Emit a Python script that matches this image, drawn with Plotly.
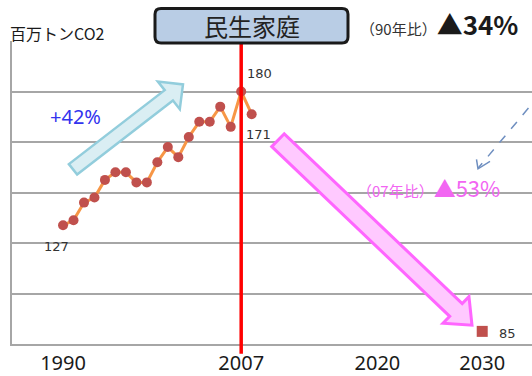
import math
import plotly.graph_objects as go

# ---- data ----
years = list(range(1990, 2009))
emissions = [127, 129, 136, 138, 145, 148, 148, 144, 144, 152,
             158, 154, 162, 168, 168, 174, 166, 180, 171]
target_year = [2030]
target_value = [85]
tick_years = [1990, 2007, 2020, 2030]
tick_text = ["1990", "2007", "2020", "2030"]
label_points = [(1990, 127, "127", -7, -21), (2007, 180, "180", 18, 18),
                (2008, 171, "171", 7, -20), (2030, 85, "85", 25, -2)]

# ---- layout geometry ----
W, H = 532, 376
ML, MR, MT, MB = 12, 0, 41, 28
PW = W - ML - MR
PH = H - MT - MB


def px(x):
    return (x - ML) / PW


def py(y):
    return (H - MB - y) / PH


def arrow_path(tail, tip, sw, hw, hl):
    dx, dy = tip[0] - tail[0], tip[1] - tail[1]
    L = math.hypot(dx, dy)
    ux, uy = dx / L, dy / L
    nx, ny = -uy, ux
    bx, by = tip[0] - hl * ux, tip[1] - hl * uy
    pts = [
        (tail[0] + sw * nx, tail[1] + sw * ny),
        (bx + sw * nx, by + sw * ny),
        (bx + hw * nx, by + hw * ny),
        tip,
        (bx - hw * nx, by - hw * ny),
        (bx - sw * nx, by - sw * ny),
        (tail[0] - sw * nx, tail[1] - sw * ny),
    ]
    return "M " + " L ".join(f"{px(x):.5f},{py(y):.5f}" for x, y in pts) + " Z"


def rounded_rect(x0, y0, x1, y1, r):
    P = lambda x, y: f"{px(x):.5f},{py(y):.5f}"
    return (f"M {P(x0 + r, y0)} L {P(x1 - r, y0)} Q {P(x1, y0)} {P(x1, y0 + r)} "
            f"L {P(x1, y1 - r)} Q {P(x1, y1)} {P(x1 - r, y1)} "
            f"L {P(x0 + r, y1)} Q {P(x0, y1)} {P(x0, y1 - r)} "
            f"L {P(x0, y0 + r)} Q {P(x0, y0)} {P(x0 + r, y0)} Z")


fig = go.Figure()
fig.add_trace(go.Scatter(
    x=years, y=emissions, mode="lines+markers",
    line=dict(color="#F79646", width=3),
    marker=dict(color="#C0504D", size=10),
    hoverinfo="skip", showlegend=False))
fig.add_trace(go.Scatter(
    x=target_year, y=target_value, mode="markers",
    marker=dict(color="#C0504D", size=11, symbol="square"),
    hoverinfo="skip", showlegend=False))

shapes = []
# red 2007 line
shapes.append(dict(type="line", xref="x", yref="paper", x0=2007, x1=2007,
                   y0=py(358), y1=py(44), line=dict(color="#FF0000", width=3.5),
                   layer="above"))
# title box
shapes.append(dict(type="path", xref="paper", yref="paper",
                   path=rounded_rect(155, 8, 348, 43, 6),
                   fillcolor="#B9CDE5", line=dict(color="#1A1A1A", width=3),
                   layer="above"))
# blue arrow
shapes.append(dict(type="path", xref="paper", yref="paper",
                   path=arrow_path((73, 171), (183, 85), 6.7, 17.8, 18),
                   fillcolor="#DAEEF3", line=dict(color="#92CDDC", width=2.5),
                   layer="above"))
# pink arrow
shapes.append(dict(type="path", xref="paper", yref="paper",
                   path=arrow_path((278, 141.5), (472, 329), 9, 18.7, 22.3),
                   fillcolor="#FFC9FF", line=dict(color="#FF66FF", width=3),
                   layer="above"))
# dashed arrow
shapes.append(dict(type="line", xref="paper", yref="paper",
                   x0=px(540), y0=py(95), x1=px(478), y1=py(170),
                   line=dict(color="#6F8FC0", width=1.5, dash="dash"),
                   layer="above"))
shapes.append(dict(type="path", xref="paper", yref="paper",
                   path=f"M {px(476.5):.5f},{py(161):.5f} L {px(478):.5f},{py(170.5):.5f} L {px(490):.5f},{py(163):.5f}",
                   line=dict(color="#6F8FC0", width=1.5),
                   layer="above"))

JP = "Noto Sans CJK JP"
ann = []
ann.append(dict(x=px(251.5), y=py(25.5), xref="paper", yref="paper",
                text="民生家庭", showarrow=False, font=dict(family=JP, size=24, color="#222222"),
                xanchor="center", yanchor="middle"))
ann.append(dict(x=px(8), y=py(33), xref="paper", yref="paper",
                text="百万トンCO2", showarrow=False, font=dict(family=JP, size=16, color="#1A1A1A"),
                xanchor="left", yanchor="middle"))
ann.append(dict(x=px(358), y=py(23), xref="paper", yref="paper",
                text="<span style='font-size:15px;color:#333333'>（90年比）</span><b>▲34%</b>",
                showarrow=False, font=dict(family=JP, size=26, color="#1A1A1A"),
                xanchor="left", yanchor="middle"))
ann.append(dict(x=px(48), y=py(118), xref="paper", yref="paper",
                text="+42%", showarrow=False, font=dict(family="Noto Sans", size=20, color="#3333EE"),
                xanchor="left", yanchor="middle"))
ann.append(dict(x=px(355), y=py(189), xref="paper", yref="paper",
                text="<span style='font-size:15px'>（07年比）</span>▲53%",
                showarrow=False, font=dict(family=JP, size=22, color="#F266F2"),
                xanchor="left", yanchor="middle"))
for x, y, t, xs, ys in label_points:
    ann.append(dict(x=x, y=y, xref="x", yref="y", text=t, showarrow=False,
                    xshift=xs, yshift=ys,
                    font=dict(family="DejaVu Sans", size=13, color="#333333")))

fig.update_layout(
    width=W, height=H,
    margin=dict(l=ML, r=MR, t=MT, b=MB, pad=0),
    paper_bgcolor="white", plot_bgcolor="white",
    shapes=shapes, annotations=ann,
    xaxis=dict(range=[1985.13, 2034.75], showgrid=False, zeroline=False,
               showline=True, linecolor="#A6A6A6", linewidth=1.5,
               tickvals=tick_years, ticktext=tick_text, ticks="",
               tickfont=dict(family="Noto Sans", size=20, color="#1A1A1A"),
               fixedrange=True),
    yaxis=dict(range=[80, 200], dtick=20, tick0=80, showgrid=True,
               gridcolor="#A6A6A6", gridwidth=1.5, zeroline=False,
               showline=True, linecolor="#A6A6A6", linewidth=1.5,
               showticklabels=False, ticks="", fixedrange=True),
)

fig.write_html("out.html", config={"displayModeBar": False})
